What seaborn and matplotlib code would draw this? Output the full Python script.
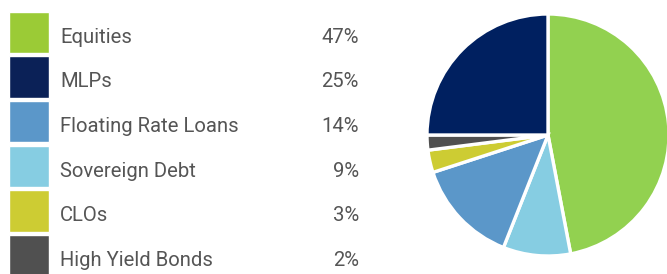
import matplotlib
matplotlib.use("Agg")
import matplotlib.pyplot as plt
import seaborn as sns

# allocation data, legend order
labels = ["Equities", "MLPs", "Floating Rate Loans", "Sovereign Debt", "CLOs", "High Yield Bonds"]
shares = [47, 25, 14, 9, 3, 2]
legend_colors = ["#9bcb36", "#0b2157", "#5b97c9", "#86cde2", "#cdcc33", "#505050"]
pie_colors = ["#92d150", "#002060", "#5b97c9", "#86cde2", "#cdcc33", "#505050"]

# order of the wedges, clockwise from 12 o'clock
pie_order = ["Equities", "Sovereign Debt", "Floating Rate Loans", "CLOs", "High Yield Bonds", "MLPs"]

sns.set_style("white")
plt.rcParams["font.family"] = ["Roboto", "DejaVu Sans"]

W, H = 667, 274
fig = plt.figure(figsize=(W / 100, H / 100), dpi=100)

# left side: colour swatches + labels + percentages, in pixel coords
ax = fig.add_axes([0, 0, 1, 1])
ax.set_xlim(0, W)
ax.set_ylim(H, 0)
ax.axis("off")

rows = [32.5 + 44.6 * i for i in range(len(labels))]
ax.barh(rows, [40] * len(labels), left=9, height=41.5, color=legend_colors)
for y, lab, val in zip(rows, labels, shares):
    ax.text(60, y + 10.3, lab, fontsize=14.6, color="#555555", va="baseline", ha="left")
    ax.text(359, y + 10.3, f"{val}%", fontsize=14.6, color="#555555", va="baseline", ha="right")

# right side: pie
cx, cy, r = 548, 135, 121
pax = fig.add_axes([(cx - r) / W, (H - cy - r) / H, 2 * r / W, 2 * r / H])
vals = [shares[labels.index(n)] for n in pie_order]
cols = [pie_colors[labels.index(n)] for n in pie_order]
pax.pie(vals, colors=cols, startangle=90, counterclock=False,
        wedgeprops=dict(edgecolor="white", linewidth=2.4))
pax.set_xlim(-1, 1)
pax.set_ylim(-1, 1)
pax.set_aspect("equal")
for p in pax.patches:
    p.set_clip_on(False)

fig.savefig("out.png", dpi=100)
